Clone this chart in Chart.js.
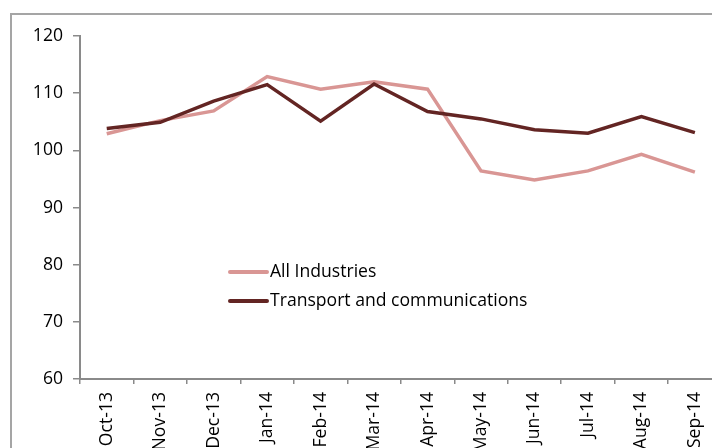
<!DOCTYPE html>
<html>
<head>
<meta charset="utf-8">
<script src="https://cdn.jsdelivr.net/npm/chart.js@4/dist/chart.umd.min.js"></script>
<style>
  html, body { margin: 0; padding: 0; background: #fff; }
  body { width: 712px; height: 448px; overflow: hidden; position: relative; }
  #frame {
    position: absolute; left: 10px; top: 13px; width: 800px; height: 500px;
    border-left: 2px solid #a5a5a5; border-top: 2px solid #a5a5a5;
  }
  #chart { position: absolute; left: 0; top: 0; }
</style>
</head>
<body>
<div id="frame"></div>
<canvas id="chart" width="724" height="448"></canvas>
<script>
// Monthly index, Oct 2013 - Sep 2014
const months = ['Oct-13', 'Nov-13', 'Dec-13', 'Jan-14', 'Feb-14', 'Mar-14',
                'Apr-14', 'May-14', 'Jun-14', 'Jul-14', 'Aug-14', 'Sep-14'];
const allIndustries = [102.9, 105.2, 106.9, 112.9, 110.7, 112.0, 110.7, 96.4, 94.8, 96.4, 99.3, 96.2];
const transportComms = [103.8, 104.9, 108.6, 111.5, 105.1, 111.6, 106.8, 105.5, 103.6, 103.0, 105.9, 103.1];
const yTicks = [60, 70, 80, 90, 100, 110, 120];

const FONT = { family: '"Open Sans", sans-serif', size: 17.6 };
const AXIS_GREY = '#8a8a8a';

// legend sits inside the plot, below the lines
const insideLegend = {
  id: 'insideLegend',
  afterDraw(chart) {
    const ctx = chart.ctx;
    const area = chart.chartArea;
    const x0 = area.left + 148;
    const rows = [area.top + 236, area.top + 265];
    const items = [chart.data.datasets[0], chart.data.datasets[1]];
    ctx.save();
    ctx.font = FONT.size + 'px ' + FONT.family;
    ctx.textBaseline = 'middle';
    ctx.fillStyle = '#000';
    items.forEach((ds, i) => {
      ctx.beginPath();
      ctx.strokeStyle = ds.borderColor;
      ctx.lineWidth = 4;
      ctx.lineCap = 'round';
      ctx.moveTo(x0 + 2, rows[i]);
      ctx.lineTo(x0 + 39, rows[i]);
      ctx.stroke();
      ctx.fillText(ds.label, x0 + 42, rows[i]);
    });
    ctx.restore();
  }
};

new Chart(document.getElementById('chart'), {
  type: 'line',
  data: {
    labels: months,
    datasets: [
      {
        label: 'All Industries',
        data: allIndustries,
        borderColor: '#d99694',
        borderWidth: 3.5,
        pointRadius: 0,
        tension: 0,
        order: 1
      },
      {
        label: 'Transport and communications',
        data: transportComms,
        borderColor: '#632523',
        borderWidth: 3.5,
        pointRadius: 0,
        tension: 0,
        order: 0
      }
    ]
  },
  options: {
    responsive: false,
    animation: false,
    layout: { padding: { top: 36, right: 0, left: 0, bottom: 0 } },
    plugins: {
      legend: { display: false },
      tooltip: { enabled: false }
    },
    scales: {
      x: {
        offset: true,
        grid: {
          offset: true,
          drawOnChartArea: false,
          color: AXIS_GREY,
          tickLength: 5,
          lineWidth: 1.5
        },
        border: { color: AXIS_GREY, width: 2 },
        ticks: {
          color: '#000',
          font: FONT,
          maxRotation: 90,
          minRotation: 90,
          padding: 8,
          autoSkip: false
        },
        afterFit(scale) { scale.height = 69; }
      },
      y: {
        min: 60,
        max: 120,
        afterBuildTicks(scale) { scale.ticks = yTicks.map(v => ({ value: v })); },
        grid: {
          drawOnChartArea: false,
          color: AXIS_GREY,
          tickLength: 7,
          lineWidth: 1.5
        },
        border: { color: AXIS_GREY, width: 2 },
        ticks: { color: '#000', font: FONT, padding: 10 },
        afterFit(scale) { scale.width = 80; }
      }
    }
  },
  plugins: [insideLegend]
});
</script>
</body>
</html>
